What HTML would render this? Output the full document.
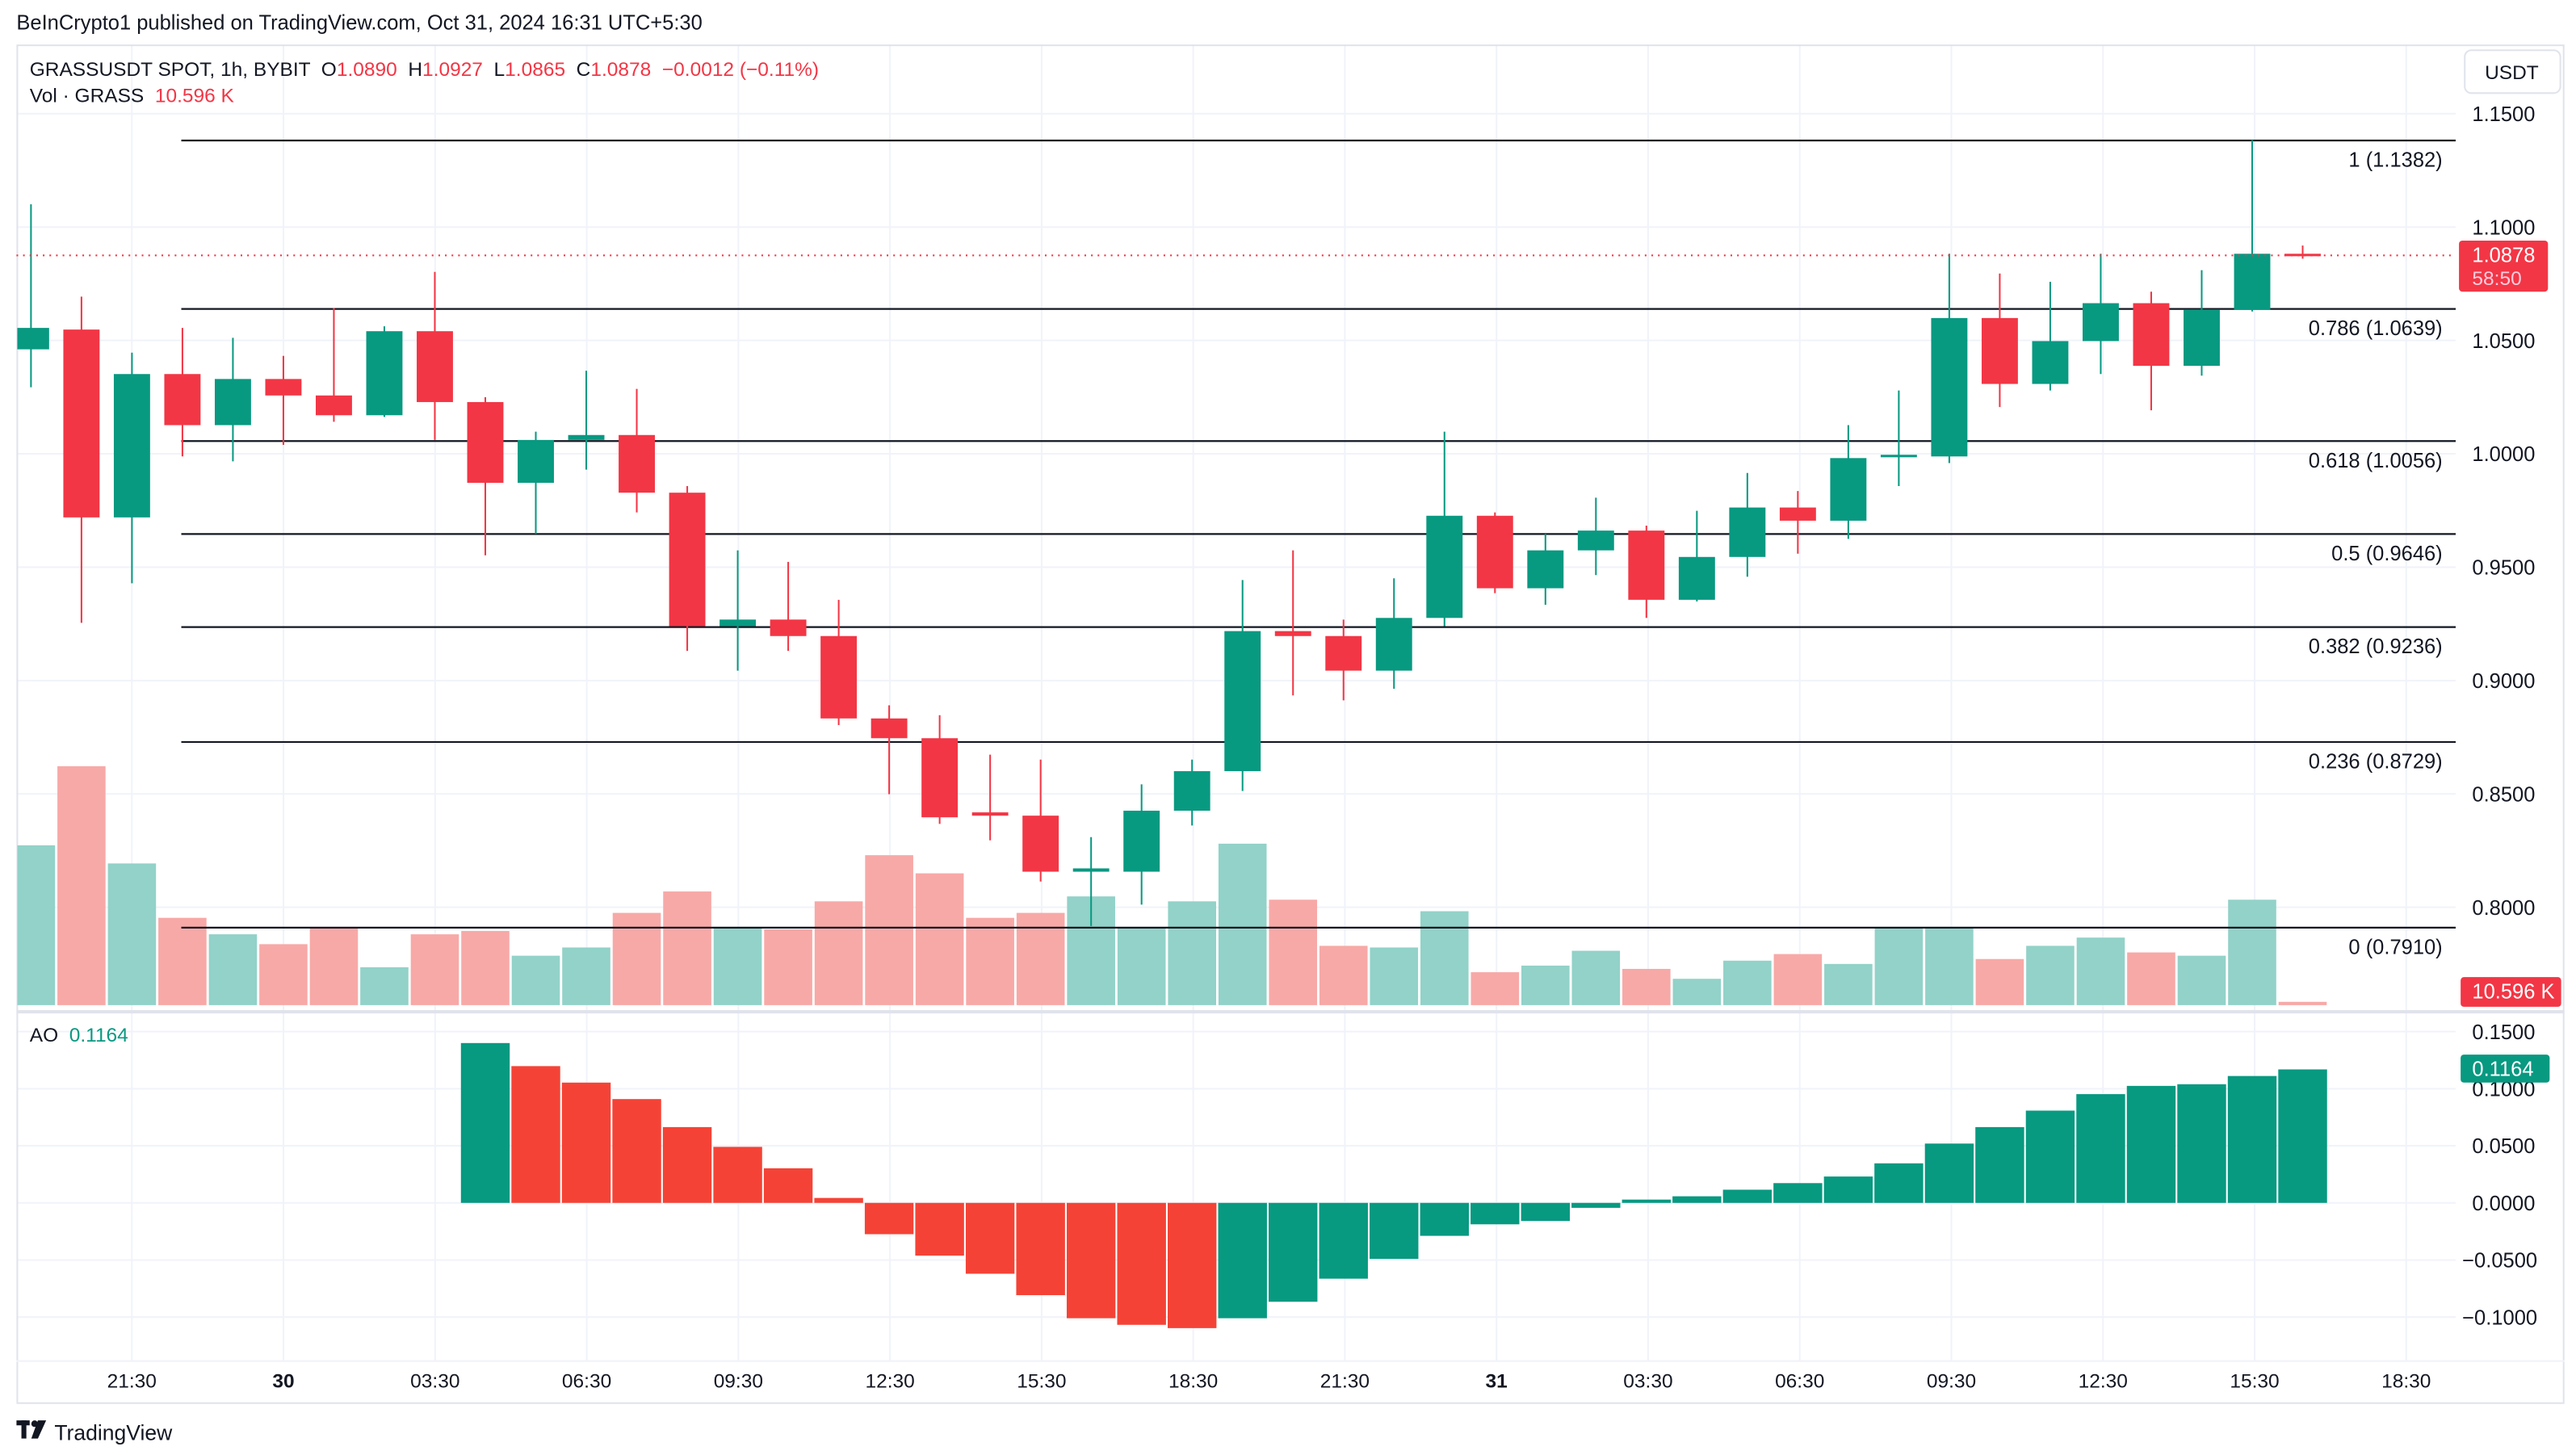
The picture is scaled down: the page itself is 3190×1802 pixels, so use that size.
<!DOCTYPE html>
<html><head><meta charset="utf-8"><style>
html,body{margin:0;padding:0;background:#fff;}
svg{display:block;}
text{font-family:"Liberation Sans",sans-serif;white-space:pre;}
</style></head><body>
<svg id="s" width="3190" height="1802" viewBox="0 0 1563 883" preserveAspectRatio="none" xmlns="http://www.w3.org/2000/svg">
<rect width="1563" height="883" fill="#fff"/>
<g id="grid"></g>
<g id="vol"></g>
<g id="fib"></g>
<g id="cdl"></g>
<g id="ao"></g>
<g id="lbl"></g>
<text x="10" y="18" font-size="12.5" fill="#131722">BeInCrypto1 published on TradingView.com, Oct 31, 2024 16:31 UTC+5:30</text>
<text x="18" y="46" font-size="12" fill="#131722" xml:space="preserve">GRASSUSDT SPOT, 1h, BYBIT  O<tspan fill="#F23645">1.0890</tspan>  H<tspan fill="#F23645">1.0927</tspan>  L<tspan fill="#F23645">1.0865</tspan>  C<tspan fill="#F23645">1.0878</tspan>  <tspan fill="#F23645">−0.0012 (−0.11%)</tspan></text>
<text x="18" y="62" font-size="12" fill="#131722" xml:space="preserve">Vol · GRASS  <tspan fill="#F23645">10.596 K</tspan></text>
<text x="18" y="632" font-size="12" fill="#131722" xml:space="preserve">AO  <tspan fill="#089981">0.1164</tspan></text>
<rect x="1495.5" y="30.5" width="58" height="26" rx="4" fill="#fff" stroke="#e0e3eb"/>
<text x="1524" y="48" font-size="12" fill="#131722" text-anchor="middle">USDT</text>
<g transform="translate(10,862)" fill="#131722"><rect x="0" y="0" width="8" height="3"/><rect x="3" y="0" width="3" height="11"/><circle cx="11" cy="2" r="2"/><path d="M13 0 L18 0 L13 11 L9 11 Z"/></g>
<text x="33" y="874" font-size="13" fill="#131722">TradingView</text>
</svg>
<script>
const NS="http://www.w3.org/2000/svg";
function el(p,t,a,txt){const e=document.createElementNS(NS,t);for(const k in a)e.setAttribute(k,a[k]);if(txt!==undefined)e.textContent=txt;document.getElementById(p).appendChild(e);return e;}
const tx=[80,172,264,356,448,540,632,724,816,908,1000,1092,1184,1276,1368,1460];
const tl=["21:30","30","03:30","06:30","09:30","12:30","15:30","18:30","21:30","31","03:30","06:30","09:30","12:30","15:30","18:30"];
tx.forEach((x,i)=>{el("grid","line",{x1:x,y1:27,x2:x,y2:826,stroke:"#f0f3fa","stroke-width":1});
 el("lbl","text",{x:x,y:842,"font-size":12,"text-anchor":"middle",fill:"#131722","font-weight":(tl[i]=="30"||tl[i]=="31")?"bold":"normal"},tl[i]);});
const py=p=>69+(1.15-p)*1376;
[1.15,1.10,1.05,1.00,0.95,0.90,0.85,0.80].forEach(p=>{const y=py(p);el("grid","line",{x1:10,y1:y,x2:1490,y2:y,stroke:"#f0f3fa"});
 el("lbl","text",{x:1500,y:y+4.5,"font-size":12.5,fill:"#131722"},p.toFixed(4));});
const ay=v=>730-v*693;
[[0.15,"0.1500"],[0.10,"0.1000"],[0.05,"0.0500"],[0,"0.0000"],[-0.05,"−0.0500"],[-0.10,"−0.1000"]].forEach(([v,s])=>{const y=ay(v);el("grid","line",{x1:10,y1:y,x2:1490,y2:y,stroke:"#f0f3fa"});
 el("lbl","text",{x:s[0]=="−"?1494:1500,y:y+4.5,"font-size":12.5,fill:"#131722"},s);});
el("grid","rect",{x:10.5,y:27.5,width:1545,height:824,fill:"none",stroke:"#e0e3eb"});
el("grid","line",{x1:10,y1:614,x2:1556,y2:614,stroke:"#e0e3eb","stroke-width":2});
el("grid","line",{x1:10,y1:826,x2:1556,y2:826,stroke:"#f0f3fa"});
const C=[[199,212,124,235,1],[200,314,180,378,0],[227,314,214,354,1],[227,258,199,277,0],[230,258,205,280,1],[230,240,216,270,0],[240,252,187,256,0],[201,252,198,253,1],[201,244,165,267,0],[244,293,241,337,0],[267,293,262,324,1],[264,267,225,285,1],[264,299,236,311,0],[299,380,295,395,0],[376,380,334,407,1],[376,386,341,395,0],[386,436,364,440,0],[436,448,428,482,0],[448,496,434,500,0],[493,495,458,510,0],[495,529,461,535,0],[527,529,508,562,1],[492,529,476,549,1],[468,492,461,501,1],[383,468,352,480,1],[383,386,334,422,0],[386,407,376,425,0],[375,407,351,418,1],[313,375,262,380,1],[313,357,311,360,0],[334,357,324,367,1],[322,334,302,349,1],[322,364,319,375,0],[338,364,310,365,1],[308,338,287,350,1],[308,316,298,336,0],[278,316,258,327,1],[276,277,237,295,1],[193,277,154,281,1],[193,233,166,247,0],[207,233,171,237,1],[184,207,154,227,1],[184,222,177,249,0],[188,222,164,228,1],[154,188,85,189,1],[154,155,149,157,0]];
const V=[513,465,524,557,567,573,563,587,567,565,580,575,554,541,563,564,547,519,530,557,554,544,563,547,512,546,574,575,553,590,586,577,588,594,583,579,585,563,563,582,574,569,578,580,546,608];
const A=[633,647,657,667,684,696,709,727,749,762,773,786,800,804,806,800,790,776,764,750,743,741,733,728,726,722,718,714,706,694,684,674,664,659,658,653,649];
const xc=i=>18.8+30.63*i;
C.forEach((c,i)=>{const x=xc(i);const col=c[4]?"#089981":"#F23645";
 const vc=c[4]?"#92d2c8":"#f7a9a7";
 const vx=Math.max(10.5,x-14.6);el("vol","rect",{x:vx,y:V[i],width:x+14.6-vx,height:610-V[i],fill:vc});
 el("cdl","line",{x1:x,y1:c[2],x2:x,y2:c[3],stroke:col,"stroke-width":1});
 const bx=Math.max(10.5,x-11);el("cdl","rect",{x:bx,y:c[0],width:x+11-bx,height:Math.max(1.5,c[1]-c[0]),fill:col});});
A.forEach((t,k)=>{const i=k+9;const x=xc(i);let col="#089981";
 if(k>0){ if(t<730) col=(t<A[k-1])?"#089981":"#F44336"; else col=(t>A[k-1])?"#F44336":"#089981"; }
 const y1=Math.min(t,730),h=Math.abs(t-730);el("ao","rect",{x:x-14.8,y:y1,width:29.6,height:Math.max(h,1),fill:col});});
[[1.1382,"1 (1.1382)"],[1.0639,"0.786 (1.0639)"],[1.0056,"0.618 (1.0056)"],[0.9646,"0.5 (0.9646)"],[0.9236,"0.382 (0.9236)"],[0.8729,"0.236 (0.8729)"],[0.7910,"0 (0.7910)"]].forEach(([p,s])=>{const y=py(p);
 el("fib","line",{x1:110,y1:y,x2:1490,y2:y,stroke:"#131722","stroke-width":1.1});
 el("fib","text",{x:1482,y:y+16,"font-size":12.5,"text-anchor":"end",fill:"#131722"},s);});
el("lbl","line",{x1:10,y1:155,x2:1490,y2:155,stroke:"#F23645","stroke-dasharray":"1 3"});
el("lbl","rect",{x:1492,y:146,width:54,height:31,rx:2,fill:"#F23645"});
el("lbl","text",{x:1500,y:159,"font-size":12.5,fill:"#fff"},"1.0878");
el("lbl","text",{x:1500,y:173,"font-size":12,fill:"#fcd"},"58:50");
el("lbl","rect",{x:1493,y:593,width:61,height:18,rx:2,fill:"#F23645"});
el("lbl","text",{x:1500,y:606,"font-size":12.5,fill:"#fff"},"10.596 K");
el("lbl","rect",{x:1493,y:640,width:54,height:17,rx:2,fill:"#089981"});
el("lbl","text",{x:1500,y:653,"font-size":12.5,fill:"#fff"},"0.1164");
</script>
</body></html>
